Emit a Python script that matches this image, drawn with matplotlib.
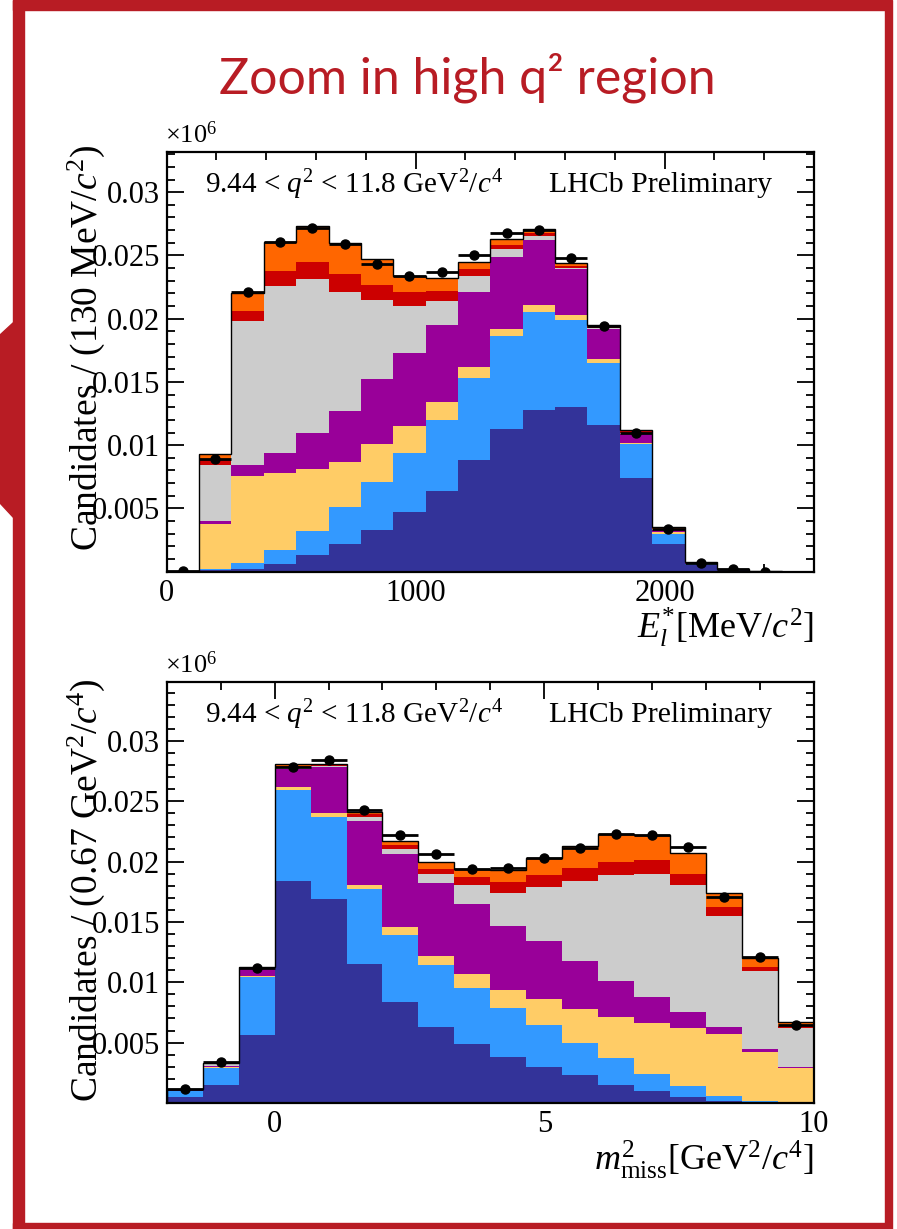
import numpy as np
import matplotlib
matplotlib.use("Agg")
import matplotlib.pyplot as plt
from matplotlib.patches import Polygon, Rectangle
from matplotlib.ticker import FixedLocator, MultipleLocator, FuncFormatter

plt.rcParams['font.family'] = ['Liberation Serif', 'DejaVu Serif']
plt.rcParams['mathtext.fontset'] = 'custom'
plt.rcParams['mathtext.rm'] = 'Liberation Serif'
plt.rcParams['mathtext.it'] = 'Liberation Serif:italic'
plt.rcParams['mathtext.bf'] = 'Liberation Serif:bold'

# ---------------- data ----------------
# Top panel: E*_l, 20 bins of 130 MeV from 0 to 2600
el_edges = np.arange(0, 2600 + 1, 130)
el_navy   = [0, 0.0001, 0.0002, 0.0006, 0.0013, 0.0022, 0.0033, 0.0047, 0.0064, 0.0088,
             0.0113, 0.0128, 0.0130, 0.0116, 0.0074, 0.0022, 0.0005, 0.0001, 0, 0]
el_blue   = [0, 0.0001, 0.0005, 0.0011, 0.0019, 0.0029, 0.0038, 0.0047, 0.0056, 0.0065,
             0.0073, 0.0077, 0.0069, 0.0049, 0.0027, 0.0008, 0.0001, 0.0001, 0, 0]
el_yellow = [0, 0.0036, 0.0069, 0.0061, 0.0049, 0.0036, 0.0030, 0.0021, 0.0014, 0.0009,
             0.0006, 0.0006, 0.0004, 0.0003, 0.0001, 0.0001, 0, 0, 0, 0]
el_purple = [0, 0.0002, 0.0008, 0.0016, 0.0029, 0.0040, 0.0051, 0.0058, 0.0061, 0.0059,
             0.0057, 0.0051, 0.0036, 0.0024, 0.0007, 0.0002, 0.0001, 0, 0, 0]
el_gray   = [0, 0.0044, 0.0114, 0.0132, 0.0121, 0.0094, 0.0063, 0.0037, 0.0019, 0.0013,
             0.0006, 0.0003, 0.0001, 0.0001, 0.0001, 0.0001, 0, 0, 0, 0]
el_red    = [0, 0.0005, 0.0008, 0.0012, 0.0014, 0.0014, 0.0012, 0.0011, 0.0008, 0.0005,
             0.0003, 0.0003, 0.0002, 0.0001, 0.0001, 0, 0.0001, 0, 0, 0]
el_orange = [0, 0.0004, 0.0014, 0.0023, 0.0028, 0.0025, 0.0020, 0.0013, 0.0010, 0.0006,
             0.0005, 0.0003, 0.0002, 0.0001, 0.0001, 0.0001, 0, 0, 0.00005, 0]
el_data   = [0.00005, 0.0089, 0.0221, 0.0261, 0.0272, 0.0259, 0.0243, 0.0234, 0.0237, 0.0250,
             0.0268, 0.0270, 0.0248, 0.0194, 0.0110, 0.0034, 0.0007, 0.0002, 0.0000, np.nan]

# Bottom panel: m^2_miss, 18 bins of 0.667 GeV^2 from -2 to 10
mm_edges = np.linspace(-2, 10, 19)
mm_navy   = [0.0005, 0.0015, 0.0056, 0.0184, 0.0169, 0.0115, 0.0084, 0.0063, 0.0049, 0.0038,
             0.0030, 0.0023, 0.0015, 0.0010, 0.0005, 0.0002, 0.0001, 0.0000]
mm_blue   = [0.0005, 0.0014, 0.0048, 0.0075, 0.0068, 0.0062, 0.0055, 0.0051, 0.0046, 0.0041,
             0.0035, 0.0027, 0.0022, 0.0014, 0.0009, 0.0004, 0.0001, 0.0001]
mm_yellow = [0.0000, 0.0001, 0.0001, 0.0003, 0.0003, 0.0004, 0.0007, 0.0008, 0.0012, 0.0015,
             0.0021, 0.0028, 0.0034, 0.0042, 0.0048, 0.0051, 0.0040, 0.0028]
mm_purple = [0.0001, 0.0001, 0.0006, 0.0015, 0.0038, 0.0053, 0.0060, 0.0060, 0.0058, 0.0053,
             0.0048, 0.0040, 0.0030, 0.0022, 0.0013, 0.0006, 0.0003, 0.0001]
mm_gray   = [0.0000, 0.0001, 0.0001, 0.0001, 0.0001, 0.0003, 0.0004, 0.0008, 0.0016, 0.0027,
             0.0045, 0.0066, 0.0088, 0.0102, 0.0106, 0.0092, 0.0064, 0.0032]
mm_red    = [0, 0, 0, 0.0001, 0.0001, 0.0002, 0.0004, 0.0004, 0.0006, 0.0009,
             0.0010, 0.0011, 0.0011, 0.0011, 0.0009, 0.0007, 0.0004, 0.0002]
mm_orange = [0.0001, 0.0001, 0.0001, 0.0002, 0.0001, 0.0002, 0.0003, 0.0006, 0.0007, 0.0010,
             0.0014, 0.0018, 0.0023, 0.0021, 0.0017, 0.0012, 0.0007, 0.0003]
mm_data   = [0.0012, 0.0034, 0.0112, 0.0278, 0.0284, 0.0243, 0.0222, 0.0206, 0.0194, 0.0195,
             0.0203, 0.0211, 0.0223, 0.0222, 0.0212, 0.0171, 0.0121, 0.0065]

comp_colors = ['#333399', '#3399ff', '#ffcc66', '#990099', '#cccccc', '#cc0000', '#ff6600']

el_yticks = [0.005, 0.01, 0.015, 0.02, 0.025, 0.03]
el_xticks = [0, 1000, 2000]
mm_xticks = [0, 5, 10]

title_text = 'Zoom in high q² region'
region_text = r'9.44 < $q^{2}$ < 11.8 GeV$^{2}$/$c^{4}$'
lhcb_text = 'LHCb Preliminary'

W, H = 897, 1229
fig = plt.figure(figsize=(W / 100, H / 100), dpi=100)

def fx(px):
    return px / W

def fy(py):
    return 1 - py / H

red = '#B81C24'
# frame
fig.patches.append(Rectangle((fx(13), fy(10)), fx(891 - 13), 10 / H, transform=fig.transFigure,
                             color=red, zorder=0))
fig.patches.append(Rectangle((fx(13), 0), fx(11), 1, transform=fig.transFigure, color=red, zorder=0))
fig.patches.append(Rectangle((fx(885), 0), fx(7), 1, transform=fig.transFigure, color=red, zorder=0))
fig.patches.append(Rectangle((fx(13), 0), fx(891 - 13), 6 / H, transform=fig.transFigure,
                             color=red, zorder=0))
fig.patches.append(Polygon([(fx(13), fy(323)), (fx(0), fy(335)), (fx(0), fy(503)), (fx(13), fy(517)),
                            (fx(24), fy(517)), (fx(24), fy(323))],
                           closed=True, transform=fig.transFigure, color=red, zorder=0))

fig.text(fx(467), fy(78), title_text, ha='center', va='center', fontsize=36,
         color=red, family=['Lato', 'DejaVu Sans'])


def draw_panel(ax, edges, comps, data, ylim_top):
    base = np.zeros(len(edges) - 1)
    for vals, c in zip(comps, comp_colors):
        top = base + np.asarray(vals, dtype=float)
        ax.stairs(top, edges, baseline=base, fill=True, color=c, lw=0, zorder=2)
        base = top
    ax.stairs(base, edges, baseline=0, fill=False, color='black', lw=1.0, zorder=3)
    centers = 0.5 * (edges[:-1] + edges[1:])
    halfw = 0.5 * (edges[1:] - edges[:-1])
    ax.errorbar(centers, data, xerr=halfw, fmt='o', color='black', ms=6.5,
                elinewidth=2.0, capsize=0, zorder=4)
    ax.set_ylim(0, ylim_top)
    ax.set_xlim(edges[0], edges[-1])
    ax.yaxis.set_major_locator(FixedLocator(el_yticks))
    ax.yaxis.set_minor_locator(MultipleLocator(0.001))
    ax.yaxis.set_major_formatter(FuncFormatter(lambda v, p: '%g' % v))
    ax.tick_params(which='both', direction='in', top=True, right=True, width=1.3,
                   labelsize=22, pad=5)
    ax.tick_params(which='major', length=12)
    ax.tick_params(which='minor', length=6)
    for s in ax.spines.values():
        s.set_linewidth(1.6)
    ax.text((205 - 166.7) / (814 - 166.7), (420 - (185 - 152)) / 420, region_text,
            transform=ax.transAxes, ha='left', va='center', fontsize=21)
    ax.text((772 - 166.7) / (814 - 166.7), (420 - (185 - 152)) / 420, lhcb_text,
            transform=ax.transAxes, ha='right', va='center', fontsize=21.5)


# top panel
ax1 = fig.add_axes([fx(166.7), fy(571.7), fx(814 - 166.7), (571.7 - 151.7) / H])
draw_panel(ax1, el_edges,
           [el_navy, el_blue, el_yellow, el_purple, el_gray, el_red, el_orange],
           el_data, 0.0332)
ax1.xaxis.set_major_locator(FixedLocator(el_xticks))
ax1.xaxis.set_minor_locator(MultipleLocator(200))

# bottom panel
ax2 = fig.add_axes([fx(166.7), fy(1103), fx(814 - 166.7), (1103 - 681.7) / H])
draw_panel(ax2, mm_edges,
           [mm_navy, mm_blue, mm_yellow, mm_purple, mm_gray, mm_red, mm_orange],
           mm_data, 0.0349)
ax2.xaxis.set_major_locator(FixedLocator(mm_xticks))
ax2.xaxis.set_minor_locator(MultipleLocator(1))

# multipliers
fig.text(fx(165), fy(135), r'$\times10^{6}$', ha='left', va='center', fontsize=19)
fig.text(fx(165), fy(665), r'$\times10^{6}$', ha='left', va='center', fontsize=19)

# y labels
fig.text(fx(86), fy(145), r'Candidates / (130 MeV/$c^{2}$)', rotation=90,
         ha='center', va='top', fontsize=27)
fig.text(fx(86), fy(678), r'Candidates / (0.67 GeV$^{2}$/$c^{4}$)', rotation=90,
         ha='center', va='top', fontsize=27)

# x labels
fig.text(fx(814), fy(627), r'$E_{l}^{*}$[MeV/$c^{2}$]', ha='right', va='center', fontsize=26)
fig.text(fx(814), fy(1160), r'$m_{\mathrm{miss}}^{2}$[GeV$^{2}$/$c^{4}$]', ha='right',
         va='center', fontsize=26)

fig.savefig('out.png', dpi=100)
